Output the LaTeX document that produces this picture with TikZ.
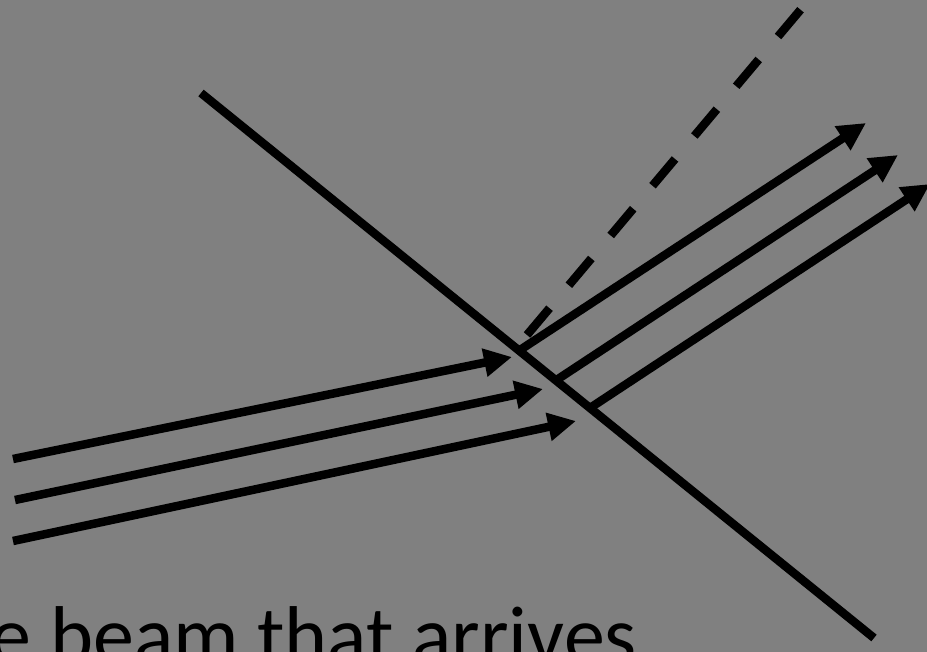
\documentclass[tikz,border=0pt]{standalone}
\usepackage{fontspec}
\setmainfont{Carlito}
\usetikzlibrary{arrows.meta}
\definecolor{bggray}{RGB}{128,128,128}
\begin{document}
\begin{tikzpicture}[x=1pt,y=-1pt,
  ray/.style={line width=8.5pt,-{Triangle[length=28pt,width=27pt]}},
  mirror/.style={line width=8.5pt},
  virt/.style={line width=8.5pt,dash pattern=on 35pt off 30pt}]
\fill[bggray] (0,0) rectangle (927,652);
\useasboundingbox (0,0) rectangle (927,652);
\clip (0,0) rectangle (927,652);
% mirror
\coordinate (m1) at (201,93);
\coordinate (m2) at (874,638);
\draw[mirror] (m1) -- (m2);
% incoming rays
\coordinate (a1) at (13,459); \coordinate (b1) at (512,357);
\coordinate (a2) at (15,500); \coordinate (b2) at (543,389);
\coordinate (a3) at (13,541); \coordinate (b3) at (576,421);
\draw[ray] (a1) -- (b1);
\draw[ray] (a2) -- (b2);
\draw[ray] (a3) -- (b3);
% outgoing rays
\coordinate (c1) at (520,350); \coordinate (d1) at (866,123);
\coordinate (c2) at (555,381); \coordinate (d2) at (898,155);
\coordinate (c3) at (590,408); \coordinate (d3) at (930,184);
\draw[ray] (c1) -- (d1);
\draw[ray] (c2) -- (d2);
\draw[ray] (c3) -- (d3);
% dashed extension
\coordinate (e1) at (527,335); \coordinate (e2) at (802,8);
\draw[virt] (e1) -- (e2);
% caption
\node[anchor=base east,inner sep=0pt,font=\fontsize{82}{90}\selectfont] (cap) at (637,663) {e beam that arrives};
\end{tikzpicture}
\end{document}
